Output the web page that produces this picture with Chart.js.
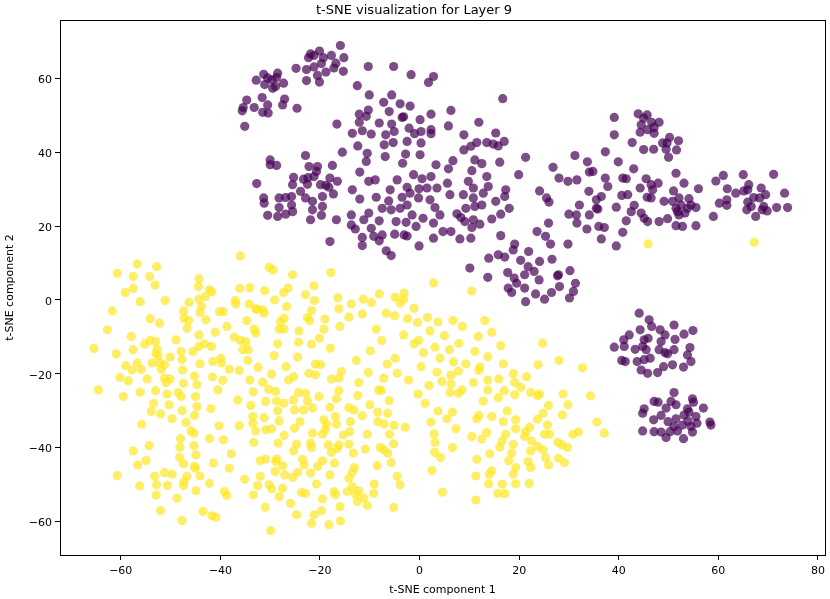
<!DOCTYPE html>
<html>
<head>
<meta charset="utf-8">
<script src="https://cdn.jsdelivr.net/npm/chart.js@4.4.0/dist/chart.umd.min.js"></script>
<style>
html,body{margin:0;padding:0;background:#fff;}
canvas{display:block;}
</style>
</head>
<body>
<canvas id="c" width="830" height="599"></canvas>
<script>
const chartTitle = 't-SNE visualization for Layer 9';
const xLabel = 't-SNE component 1';
const yLabel = 't-SNE component 2';
const xTicks = [-60,-40,-20,0,20,40,60,80];
const yTicks = [-60,-40,-20,0,20,40,60];
const xRange = [-72.2, 81.4];
const yRange = [-69.1, 75.8];

// class 0 (purple)
const class0Points = [
[-15.9,68.9],[-20.1,67.4],[-21.9,66.6],[-22.3,65.6],[-21.2,66.2],[-19.3,65.6],[-17.7,66.2],[-15.2,65.6],[-24.8,62.7],[-22.7,62.4],[-21.2,63.1],[-19.7,64.0],[-18.8,61.7],[-17.2,62.8],[-16.8,64.1],[-15.3,61.9],[-20.5,60.8],[-22.7,59.4],[-20.1,59.0],
[-31.3,61.1],[-32.8,59.5],[-30.5,60.1],[-28.5,61.4],[-28.7,60.2],[-29.7,59.6],[-31.1,58.3],[-29.5,57.3],[-28.9,57.8],[-27.3,58.7],[-31.6,54.8],[-34.7,54.1],[-35.4,52.1],[-35.6,51.2],[-33.2,52.1],[-30.5,52.8],[-31.5,50.8],[-30.4,50.6],[-27.5,52.8],[-27.1,54.4],[-24.6,51.9],[-35.1,47.0],
[-10.3,63.2],[-5.2,63.2],[-1.7,61.0],[-12.5,58.0],[-10.1,55.5],[-5.6,55.5],[-7.2,53.5],[-3.9,53.1],[-1.9,52.5],[-10.3,51.4],[-12.1,50.3],[-6.1,51.0],[-10.7,49.7],[-3.5,49.4],[-3.2,49.6],[0.1,48.8],[-12.1,48.1],[-8.1,47.9],[-5.6,47.6],[-16.6,47.6],[-13.5,45.1],[-11.5,45.8],[-9.7,44.9],[-6.8,44.7],[-5.1,45.6],[-2.1,46.5],[-1.0,45.0],[0.3,45.6],[-12.4,41.7],[-7.1,42.0],[-5.3,42.6],[-2.5,42.9],[0.3,42.5],[-15.5,40.0],[-10.5,39.7],[-6.9,38.8],[-2.8,39.5],[0.1,39.3],[-22.9,39.1],[-30.0,37.9],[-30.0,36.6],[-28.7,36.4],[-22.2,36.1],[-20.5,36.1],[-17.5,36.4],[-10.7,37.5],[-3.4,37.0],
[2.8,60.5],[1.8,58.9],[16.7,54.5],[2.3,50.3],[6.3,51.3],[2.3,46.1],[2.3,45.0],[5.8,47.1],[11.9,48.1],[8.9,44.7],[15.3,45.2],[11.5,42.6],[13.5,42.6],[14.8,42.2],[15.8,41.7],[17.0,42.9],[10.3,41.6],[8.9,40.6],[3.3,36.6],[6.7,37.7],[11.1,37.9],[12.5,36.9],[16.1,37.3],[21.3,38.6],[31.2,39.1],[33.7,37.4],[37.3,40.1],
[39.1,49.4],[39.1,44.7],[43.9,50.4],[45.7,50.1],[45.0,49.2],[44.5,47.4],[46.6,48.1],[48.1,48.1],[47.1,46.7],[45.8,46.1],[44.3,45.4],[47.1,45.1],[42.7,42.6],[50.2,44.0],[52.0,43.1],[48.8,42.5],[49.7,42.5],[49.5,40.8],[45.0,40.7],[47.0,40.8],[51.6,40.6],[50.0,38.6],[39.9,37.4],
[-20.7,34.8],[-25.3,33.2],[-23.3,32.7],[-22.4,33.1],[-21.2,33.4],[-18.0,33.0],[-16.5,32.1],[-12.0,34.6],[-10.2,32.1],[-8.9,32.5],[-4.5,32.5],[-1.2,33.9],[0.5,32.8],[-32.7,31.5],[-25.5,31.2],[-22.5,31.3],[-19.9,31.2],[-18.8,31.0],[-18.2,30.5],[-13.5,29.8],[-5.9,29.8],[-2.5,30.5],[-0.1,30.1],[-31.3,27.6],[-31.2,26.2],[-28.2,27.6],[-26.9,27.7],[-25.7,28.0],[-23.9,29.4],[-22.9,27.6],[-21.5,26.7],[-19.5,28.0],[-17.3,28.7],[-12.0,27.3],[-8.7,27.8],[-6.2,26.8],[-3.5,27.8],[-1.9,28.9],[-0.2,27.6],[-28.2,25.0],[-25.7,25.7],[-30.5,22.9],[-28.5,22.6],[-26.9,23.2],[-25.5,23.9],[-21.5,24.4],[-19.5,25.3],[-21.9,21.7],[-19.7,22.9],[-16.7,21.7],[-13.7,23.0],[-11.2,21.7],[-10.2,23.5],[-7.5,24.8],[-5.7,24.4],[-3.9,24.8],[-2.5,25.7],[-1.5,23.0],[0.7,22.1],[-13.7,20.3],[-12.9,19.2],[-9.7,19.4],[-8.1,21.4],[-4.7,21.2],[-2.7,21.0],[-0.7,19.9],[-11.5,16.9],[-11.5,14.7],[-9.2,17.2],[-7.5,17.6],[-8.1,16.0],[-5.0,17.8],[-3.1,17.6],[-2.5,17.3],[-0.1,14.6],[-18.0,15.8],[-6.7,13.3],[-5.7,12.0],
[5.8,35.5],[10.5,35.0],[19.9,33.9],[26.8,35.9],[34.8,34.8],[2.3,33.4],[1.5,30.3],[3.5,30.3],[5.6,31.6],[9.8,32.1],[10.8,30.3],[13.5,33.4],[13.8,30.7],[12.8,28.9],[8.8,28.5],[10.8,27.6],[17.3,29.8],[17.1,28.0],[24.1,29.5],[25.5,27.6],[26.0,26.5],[28.0,33.0],[29.8,32.1],[31.6,32.5],[34.1,34.6],[37.3,33.0],[37.8,30.7],[36.5,28.0],[34.0,29.4],[35.5,27.1],[6.1,28.5],[2.1,27.1],[3.1,25.0],[4.1,23.0],[2.8,20.8],[4.7,18.5],[6.3,18.5],[2.8,16.7],[7.5,23.3],[8.3,22.3],[9.1,21.2],[9.3,24.8],[11.1,25.3],[12.5,25.7],[10.8,21.7],[12.1,20.5],[10.5,19.6],[8.1,16.5],[10.3,16.7],[14.5,21.9],[15.3,26.7],[16.3,23.2],[18.0,24.8],[30.0,23.2],[31.5,23.0],[32.1,25.7],[31.6,20.8],[34.1,23.0],[33.6,19.2],[35.5,24.8],[35.8,24.6],[36.0,19.9],[37.1,19.6],[36.5,16.5],[25.9,20.8],[29.8,15.1],[23.6,18.5],[25.3,17.2],[26.3,15.1],[16.3,17.4],[19.1,15.1],
[43.0,35.5],[51.5,34.3],[53.1,31.6],[56.0,30.1],[59.5,32.2],[61.0,33.7],[65.0,33.9],[71.1,34.0],[40.8,33.0],[41.5,32.8],[45.5,32.8],[46.5,31.2],[47.9,31.6],[46.8,29.8],[44.3,30.3],[40.6,28.3],[41.8,28.5],[45.7,27.8],[46.5,27.6],[51.0,29.5],[49.1,26.7],[50.8,26.7],[52.1,27.6],[52.5,25.7],[54.1,27.4],[54.5,25.7],[55.5,25.0],[51.8,23.9],[53.3,23.5],[52.1,23.0],[51.5,24.8],[53.8,24.8],[39.5,25.1],[42.5,23.9],[43.1,25.6],[44.5,23.5],[45.1,22.1],[45.8,21.2],[48.1,21.2],[49.8,22.0],[51.5,20.1],[52.8,19.9],[55.5,20.1],[41.5,21.4],[40.8,18.3],[39.5,14.6],[59.0,22.6],[60.2,26.2],[61.7,27.1],[61.7,25.6],[61.8,30.1],[63.5,28.9],[65.1,29.5],[65.9,29.8],[66.1,31.2],[67.1,27.7],[65.9,26.5],[65.7,24.4],[66.6,25.3],[67.5,22.6],[68.3,27.6],[68.6,30.3],[69.5,28.5],[69.1,25.3],[68.8,24.4],[69.8,24.1],[71.7,25.0],[73.3,28.9],[73.9,25.0],
[10.1,8.6],[13.7,6.1],[13.9,11.3],[15.8,12.2],[17.1,11.6],[18.8,13.5],[20.3,10.7],[21.9,13.1],[21.8,9.0],[21.1,6.8],[23.0,7.7],[24.1,10.4],[26.6,11.0],[27.7,6.5],[27.9,6.8],[30.2,7.9],[31.3,4.5],[30.9,2.3],[30.1,0.5],[28.1,3.6],[26.5,2.0],[25.1,0.2],[23.3,1.6],[21.3,-0.5],[21.1,3.2],[19.5,4.5],[19.0,5.9],[17.7,7.4],[17.8,3.2],[18.5,2.0],[24.0,5.4],
[44.1,-3.6],[46.1,-5.4],[46.6,-7.2],[44.3,-8.1],[42.1,-9.5],[41.0,-10.8],[39.1,-12.8],[41.1,-12.6],[43.3,-13.4],[45.1,-10.8],[45.9,-10.4],[44.8,-12.6],[45.5,-13.5],[48.3,-8.1],[49.3,-9.5],[51.1,-6.8],[51.3,-10.7],[53.1,-9.3],[54.9,-8.3],[48.5,-11.3],[48.1,-13.5],[49.3,-14.3],[51.1,-13.5],[54.3,-12.9],[53.8,-14.9],[54.5,-16.7],[53.0,-18.2],[50.8,-17.6],[49.0,-18.1],[47.8,-19.7],[45.8,-19.9],[44.5,-19.0],[43.7,-16.7],[45.1,-16.2],[46.3,-15.8],[40.6,-16.4],[41.3,-16.7],[49.8,-14.6],[51.1,-25.1],
[47.1,-27.5],[47.9,-27.7],[50.5,-27.5],[51.5,-28.4],[49.5,-29.3],[54.8,-26.8],[55.0,-27.7],[57.0,-29.3],[45.1,-29.5],[44.8,-30.7],[47.0,-32.5],[48.5,-31.3],[49.9,-33.0],[51.5,-32.2],[53.8,-29.5],[54.1,-30.4],[53.1,-31.2],[55.5,-31.6],[55.7,-33.4],[58.3,-33.1],[58.5,-33.9],[44.8,-35.5],[47.1,-35.7],[48.5,-35.8],[49.5,-37.3],[50.3,-35.7],[51.8,-35.5],[53.0,-37.6],[54.8,-35.8],[54.5,-34.3],[52.8,-33.9],[51.1,-34.3],[53.9,-32.8]
];

// class 1 (yellow)
const class1Points = [
[45.9,15.2],[67.2,15.6],
[-36.0,11.9],[-56.7,9.7],[-52.8,9.0],[-60.7,7.2],[-57.5,6.3],[-54.2,6.3],[-53.1,4.0],[-44.3,5.7],[-44.4,3.6],[-59.1,2.0],[-57.5,3.1],[-42.2,2.7],[-41.7,2.2],[-43.0,0.9],[-36.1,3.1],[-34.1,3.3],[-56.1,-0.5],[-51.1,-0.2],[-46.3,-0.7],[-44.3,0.2],[-43.8,-1.8],[-44.1,-3.4],[-47.4,-3.0],[-47.3,-5.0],[-46.4,-5.6],[-46.7,-7.7],[-42.9,-5.4],[-40.2,-3.2],[-39.4,-3.2],[-37.0,-0.2],[-36.9,-1.1],[-34.2,-1.1],[-32.9,-2.5],[-34.7,-5.6],[-38.7,-7.2],[-41.0,-8.8],[-33.2,-7.9],[-61.7,-3.0],[-54.1,-5.1],[-52.2,-6.3],[-62.7,-8.1],[-57.9,-9.9],[-65.4,-13.2],[-60.9,-14.6],[-57.5,-13.5],[-55.2,-12.0],[-54.1,-11.0],[-53.0,-11.3],[-52.7,-13.4],[-52.9,-14.6],[-52.5,-15.2],[-48.9,-10.8],[-44.3,-9.5],[-44.3,-12.6],[-43.2,-11.9],[-41.8,-12.6],[-37.2,-10.1],[-35.9,-11.0],[-34.9,-11.3],[-35.5,-13.5],[-34.4,-13.5],[-32.9,-9.0],[-59.0,-17.8],[-56.7,-17.1],[-57.7,-19.0],[-55.9,-18.8],[-53.7,-17.1],[-52.2,-17.1],[-51.2,-17.6],[-51.9,-18.8],[-50.1,-15.5],[-47.9,-14.0],[-47.7,-16.1],[-45.5,-14.0],[-44.1,-17.3],[-41.5,-16.7],[-39.9,-15.8],[-39.8,-17.1],[-38.2,-18.8],[-36.2,-19.1],[-34.5,-16.4],[-47.6,-19.0],[-60.2,-21.0],[-58.5,-21.9],[-54.7,-21.4],[-51.2,-21.2],[-50.9,-22.4],[-50.1,-21.4],[-47.4,-22.6],[-45.2,-20.6],[-44.7,-23.0],[-41.6,-20.9],[-39.5,-21.8],[-34.1,-21.7],[-64.5,-24.4],[-59.5,-26.2],[-56.1,-25.0],[-53.0,-24.6],[-50.7,-25.5],[-48.5,-25.1],[-47.9,-26.2],[-45.0,-26.2],[-40.5,-24.4],[-33.4,-24.9],
[-30.2,8.8],[-29.4,8.1],[-25.5,6.8],[-17.8,7.4],[-31.1,2.5],[-29.1,0.0],[-27.3,2.0],[-26.4,3.2],[-21.2,3.8],[-22.9,1.4],[-21.1,-0.2],[-16.4,0.6],[-16.2,-2.4],[-13.7,-1.1],[-11.3,0.2],[-9.7,-0.7],[-8.1,1.6],[-4.9,0.7],[-3.9,-0.9],[-3.1,1.8],[-3.2,0.2],[-1.1,-2.3],[-6.7,-3.6],[-5.0,-4.3],[-2.4,-5.1],[-0.4,-6.1],[1.6,-4.8],[2.1,-8.4],[-32.7,-2.5],[-31.5,-2.7],[-31.2,-3.6],[-26.7,-1.8],[-21.7,-2.9],[-22.5,-4.8],[-22.1,-5.6],[-19.0,-5.2],[-27.2,-5.0],[-27.9,-5.9],[-28.2,-7.9],[-27.2,-7.9],[-24.2,-8.4],[-19.2,-7.9],[-16.0,-7.2],[-14.2,-4.7],[-11.5,-3.8],[-8.7,-7.9],[-7.6,-11.0],[-3.2,-9.5],[-1.1,-11.9],[-0.2,-11.0],[0.8,-14.3],[-28.5,-11.9],[-24.3,-11.5],[-21.7,-12.0],[-20.1,-10.4],[-17.9,-13.1],[-9.9,-13.8],[-4.9,-15.8],[-6.5,-17.4],[0.3,-18.1],[-29.2,-15.1],[-24.5,-15.5],[-20.9,-17.4],[-19.9,-17.6],[-12.7,-16.4],[-32.4,-18.3],[-29.7,-20.1],[-26.8,-18.1],[-26.3,-21.7],[-25.3,-20.8],[-22.2,-19.9],[-20.9,-20.3],[-17.7,-21.4],[-16.2,-21.2],[-15.7,-19.4],[-12.2,-22.4],[-10.3,-19.7],[-7.2,-21.2],[-4.5,-19.9],[-2.2,-21.7],[-31.5,-22.3],[-30.3,-24.2],[-28.9,-24.8],[-24.3,-25.1],[-22.9,-25.3],[-20.2,-26.2],[-16.2,-24.6],[-12.4,-25.9],[-8.2,-24.4],[-7.7,-24.6],[-0.3,-25.5],[1.9,-23.2],
[2.8,4.6],[10.5,2.4],[3.7,-6.0],[6.7,-5.6],[8.6,-7.2],[13.1,-5.6],[14.5,-8.8],[5.0,-9.7],[11.8,-9.9],[7.9,-11.8],[3.1,-12.8],[6.0,-13.5],[11.1,-14.0],[16.3,-12.4],[24.7,-11.7],[4.1,-15.8],[6.8,-16.8],[9.3,-17.3],[13.7,-15.4],[16.8,-17.3],[12.1,-18.2],[11.9,-19.1],[23.8,-17.6],[28.0,-16.4],[32.7,-18.4],[3.5,-19.6],[6.3,-20.4],[7.8,-19.3],[4.5,-22.1],[6.3,-22.8],[10.8,-22.4],[13.7,-21.7],[15.9,-21.4],[18.8,-20.0],[19.1,-22.4],[21.5,-20.8],[20.3,-23.7],[6.1,-25.1],[7.8,-25.3],[8.5,-24.4],[13.7,-24.4],[17.0,-24.6],[19.1,-25.7],[22.3,-25.1],[23.7,-26.0],[24.1,-25.5],[28.8,-25.5],[34.3,-26.0],
[-36.5,-27.1],[-33.9,-28.6],[-53.4,-28.0],[-50.3,-28.4],[-53.9,-30.2],[-52.0,-30.9],[-47.7,-30.0],[-44.7,-28.9],[-45.2,-31.3],[-41.9,-29.5],[-49.7,-32.2],[-46.9,-33.2],[-55.8,-33.7],[-40.3,-34.1],[-36.2,-34.1],[-33.5,-31.6],[-33.5,-33.4],[-32.9,-35.5],[-45.9,-35.5],[-45.3,-36.1],[-48.0,-37.6],[-48.1,-39.9],[-45.3,-39.5],[-42.2,-37.6],[-39.4,-37.9],[-33.3,-38.6],[-57.5,-40.9],[-54.3,-39.5],[-44.9,-42.0],[-48.2,-42.6],[-47.4,-44.4],[-45.2,-45.1],[-45.0,-45.6],[-41.4,-44.2],[-37.8,-41.7],[-38.2,-45.6],[-56.6,-44.7],[-54.9,-43.5],[-60.7,-47.6],[-53.2,-47.8],[-51.2,-46.8],[-49.7,-47.2],[-46.7,-47.8],[-44.1,-47.7],[-47.3,-49.2],[-47.4,-50.3],[-52.8,-50.1],[-50.6,-50.3],[-56.2,-50.4],[-42.2,-49.7],[-35.1,-48.6],[-52.9,-52.9],[-48.7,-53.7],[-44.9,-51.7],[-39.2,-51.9],[-38.7,-53.0],[-33.4,-52.8],[-52.0,-57.1],[-43.5,-57.3],[-41.7,-58.5],[-40.9,-58.9],[-47.7,-59.8],
[-30.9,-27.5],[-28.7,-27.4],[-27.2,-28.0],[-25.3,-27.1],[-22.5,-27.4],[-16.7,-26.8],[-10.0,-28.4],[-6.1,-27.3],[1.1,-28.0],[-28.5,-30.0],[-25.1,-29.8],[-23.3,-29.8],[-21.5,-29.3],[-18.0,-29.1],[-14.2,-29.2],[-13.2,-29.8],[-11.5,-31.4],[-8.4,-30.4],[-6.4,-30.7],[-8.4,-33.0],[-7.1,-33.6],[-5.1,-34.0],[-2.9,-34.5],[-31.2,-31.9],[-28.2,-32.8],[-24.0,-33.0],[-25.1,-34.8],[-19.2,-32.5],[-18.7,-33.7],[-16.9,-31.6],[-16.7,-33.7],[-18.9,-35.2],[-19.5,-36.4],[-21.5,-36.1],[-13.9,-33.0],[-14.0,-35.7],[-15.3,-36.6],[-10.5,-36.4],[-6.0,-36.4],[-30.9,-35.2],[-29.7,-34.9],[-27.2,-36.7],[-28.4,-38.8],[-24.7,-39.1],[-25.3,-40.9],[-21.9,-38.8],[-21.7,-40.0],[-18.3,-39.3],[-17.7,-41.3],[-16.2,-39.3],[-16.5,-40.2],[-14.2,-39.1],[-13.3,-41.5],[-10.9,-40.4],[-7.9,-40.0],[-7.2,-40.6],[-6.4,-41.5],[-5.2,-39.0],[-5.7,-44.1],[-8.5,-44.9],[-32.0,-43.6],[-30.9,-43.1],[-28.7,-43.1],[-28.9,-43.8],[-27.5,-44.9],[-29.0,-46.5],[-27.1,-47.4],[-25.5,-48.1],[-24.5,-46.7],[-23.5,-43.2],[-23.2,-44.7],[-21.9,-46.9],[-20.5,-45.1],[-19.5,-43.6],[-17.1,-44.2],[-18.0,-47.4],[-14.2,-48.3],[-13.5,-46.7],[-13.1,-45.4],[-32.0,-47.8],[-32.5,-50.3],[-30.2,-50.1],[-29.7,-51.2],[-27.5,-51.0],[-28.2,-53.3],[-25.9,-55.1],[-23.7,-52.2],[-22.9,-52.4],[-20.7,-49.9],[-19.5,-53.9],[-17.2,-51.9],[-16.9,-52.8],[-14.5,-51.9],[-13.5,-50.6],[-12.9,-52.6],[-12.2,-51.7],[-11.2,-53.7],[-12.5,-54.6],[-10.5,-55.7],[-9.1,-49.9],[-9.2,-52.4],[-4.5,-47.8],[-3.9,-50.1],[-5.2,-56.2],[-16.0,-56.0],[-31.0,-56.2],[-24.7,-58.2],[-21.2,-58.2],[-19.7,-57.1],[-21.7,-60.5],[-18.2,-60.9],[-15.9,-59.9],[-29.9,-62.5],
[12.8,-27.4],[15.8,-26.5],[3.7,-30.1],[6.6,-30.4],[5.5,-32.2],[11.5,-32.2],[11.9,-31.3],[14.5,-31.6],[17.6,-30.1],[16.8,-33.0],[19.3,-32.5],[19.3,-34.9],[21.3,-35.7],[21.1,-37.0],[22.1,-34.5],[23.7,-32.3],[24.8,-30.7],[25.9,-28.6],[29.8,-28.4],[28.7,-31.2],[25.7,-33.9],[25.1,-36.4],[26.1,-36.4],[30.8,-36.4],[31.9,-35.8],[35.6,-33.1],[37.1,-36.1],[2.3,-33.1],[7.3,-34.9],[2.9,-36.3],[3.1,-38.6],[6.6,-40.0],[3.0,-41.3],[4.2,-42.7],[10.5,-37.0],[12.5,-37.7],[13.5,-35.9],[17.3,-36.4],[16.6,-38.2],[16.1,-39.9],[18.8,-39.1],[22.5,-38.2],[23.7,-39.7],[24.8,-40.6],[22.3,-40.9],[21.8,-43.8],[25.3,-42.7],[27.8,-38.6],[28.6,-39.3],[29.7,-40.0],[27.9,-42.9],[29.1,-44.1],[25.9,-44.7],[22.3,-45.4],[18.5,-41.5],[17.9,-43.6],[14.1,-41.7],[11.5,-43.2],[2.5,-46.2],[14.5,-46.3],[14.0,-47.2],[19.3,-45.4],[18.8,-47.2],[11.3,-47.7],[13.9,-49.8],[16.6,-49.9],[19.3,-49.8],[22.0,-49.7],[15.7,-52.4],[17.1,-52.5],[4.6,-52.1],[11.3,-54.2]
];

const FONT = 'DejaVu Sans';
const toXY = arr => arr.map(p => ({x: p[0], y: p[1]}));
const fmt = v => (v < 0 ? '\u2212' + Math.abs(v) : String(v));

const boxPlugin = {
  id: 'box',
  afterDraw(chart) {
    const {ctx, chartArea: a} = chart;
    ctx.save();
    ctx.strokeStyle = '#000';
    ctx.lineWidth = 1;
    ctx.strokeRect(Math.round(a.left) + 0.5, Math.round(a.top) + 0.5,
                   Math.round(a.right - a.left), Math.round(a.bottom - a.top));
    ctx.restore();
  }
};

const gridOpts = {display: true, drawOnChartArea: false, drawTicks: true, tickLength: 5, color: '#000', tickColor: '#000', tickWidth: 1};
const borderOpts = {display: true, color: '#000', width: 1};

new Chart(document.getElementById('c'), {
  type: 'scatter',
  data: {
    datasets: [
      {label: '0', data: toXY(class0Points), backgroundColor: 'rgba(68,1,84,0.7)', borderWidth: 0, pointRadius: 4.6, pointHoverRadius: 4.6},
      {label: '1', data: toXY(class1Points), backgroundColor: 'rgba(253,231,37,0.7)', borderWidth: 0, pointRadius: 4.6, pointHoverRadius: 4.6}
    ]
  },
  options: {
    responsive: false,
    animation: false,
    devicePixelRatio: 1,
    layout: {padding: {left: 0, right: 2, top: 0, bottom: 0}},
    plugins: {
      legend: {display: false},
      tooltip: {enabled: false},
      title: {display: true, text: chartTitle, color: '#000', font: {family: FONT, size: 13, weight: 'normal'}, padding: {top: 3, bottom: 1.4}}
    },
    scales: {
      x: {
        type: 'linear',
        min: xRange[0], max: xRange[1],
        grid: gridOpts, border: borderOpts,
        ticks: {color: '#000', font: {family: FONT, size: 11}, padding: 5, maxRotation: 0, callback: v => fmt(v)},
        afterBuildTicks: s => { s.ticks = xTicks.map(v => ({value: v})); },
        afterFit: s => { s.height = 44; },
        title: {display: true, text: xLabel, color: '#000', font: {family: FONT, size: 11}, padding: {top: 0, bottom: 2}}
      },
      y: {
        type: 'linear',
        min: yRange[0], max: yRange[1],
        grid: gridOpts, border: borderOpts,
        ticks: {color: '#000', font: {family: FONT, size: 11}, padding: 3, labelOffset: 2, callback: v => fmt(v)},
        afterBuildTicks: s => { s.ticks = yTicks.map(v => ({value: v})); },
        afterFit: s => { s.width = 60; },
        title: {display: true, text: yLabel, color: '#000', font: {family: FONT, size: 11}, padding: {top: 4, bottom: 0}}
      }
    }
  },
  plugins: [boxPlugin]
});
</script>
</body>
</html>
